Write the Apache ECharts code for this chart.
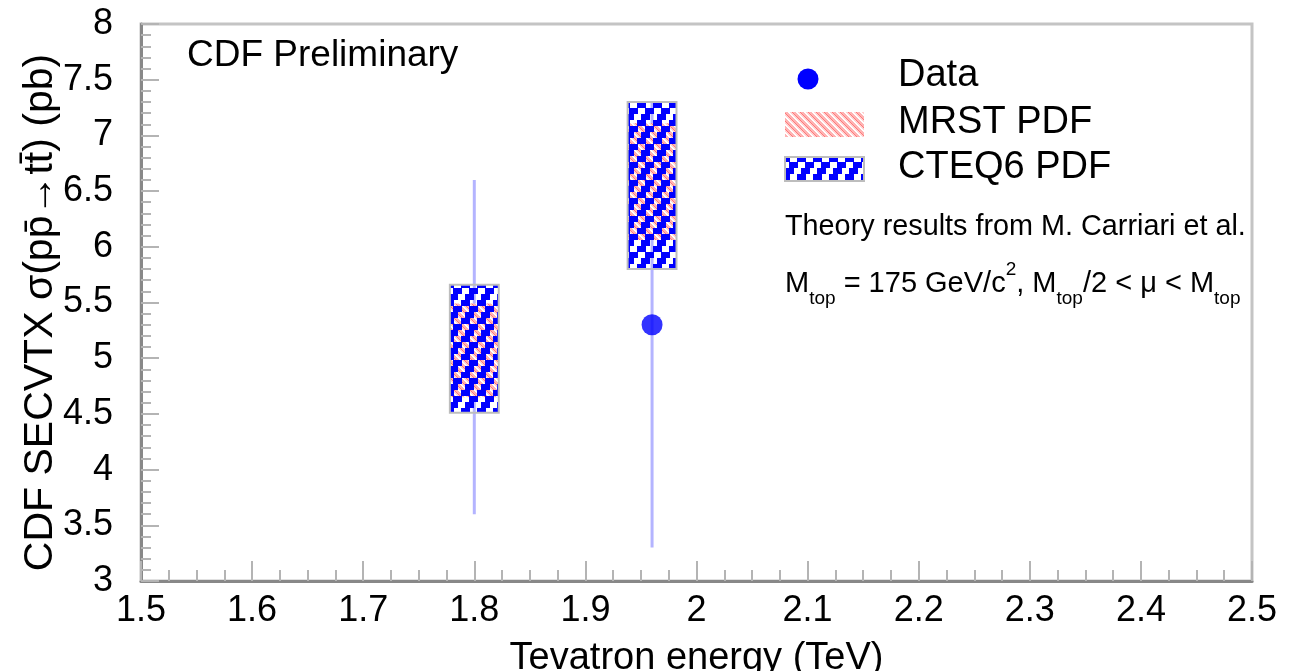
<!DOCTYPE html>
<html>
<head>
<meta charset="utf-8">
<script src="https://cdn.jsdelivr.net/npm/echarts@6/dist/echarts.min.js"></script>
<style>
html,body{margin:0;padding:0;background:#fff;}
#chart{width:1291px;height:671px;}
</style>
</head>
<body>
<div id="chart"></div>
<script>
// ---- data ----
const energies = [1.8, 1.96];            // TeV
const dataValues = [5.1, 5.3];           // pb
const dataErrLow = [3.6, 3.3];
const dataErrHigh = [6.6, 7.3];
const mrstLow = [4.65, 6.06];
const mrstHigh = [5.49, 7.11];
const cteqLow = [4.51, 5.80];
const cteqHigh = [5.66, 7.30];
const legendNames = ['Data', 'MRST PDF', 'CTEQ6 PDF'];
const annotationLines = ['CDF Preliminary', 'Theory results from M. Carriari et al.'];

const FONT = '"Liberation Sans", Arial, Helvetica, sans-serif';
const BOX_HALF = 0.022;

// ---- fill patterns ----
function makeCanvas(w, h, fn) {
  const c = document.createElement('canvas');
  c.width = w; c.height = h;
  const ctx = c.getContext('2d');
  for (let y = 0; y < h; y++) for (let x = 0; x < w; x++) {
    const col = fn(x, y);
    if (col) { ctx.fillStyle = col; ctx.fillRect(x, y, 1, 1); }
  }
  return c;
}
const cteqCanvas = makeCanvas(16, 18, (x, y) => {
  const step = Math.floor(y / 6);
  const start = [5, 1, 13][step];
  const d = ((x - start) % 16 + 16) % 16;
  return d < 9 ? '#0000ff' : null;
});
const cteqCanvasLegend = makeCanvas(16, 18, (x, y) => {
  const step = Math.floor(y / 6);
  const start = [5, 1, 13][step];
  const d = ((x - start) % 16 + 16) % 16;
  return d < 9 ? '#0000ff' : '#ffffff';
});
const mrstCanvas = makeCanvas(8, 8, (x, y) => {
  const d = ((x - y) % 8 + 8) % 8;
  if (d === 0) return '#ff7878';
  if (d <= 3) return '#ffb4b4';
  if (d <= 5) return '#ffffff';
  return '#ffd2d2';
});
const cteqPattern = { image: cteqCanvas, repeat: 'repeat' };
const cteqPatternLegend = { image: cteqCanvasLegend, repeat: 'repeat' };
const mrstPattern = { image: mrstCanvas, repeat: 'repeat' };

function boxRenderer(pattern, stroke) {
  return function (params, api) {
    const x = api.value(0), lo = api.value(1), hi = api.value(2);
    const p1 = api.coord([x - BOX_HALF, hi]);
    const p2 = api.coord([x + BOX_HALF, lo]);
    return {
      type: 'rect',
      shape: { x: p1[0], y: p1[1], width: p2[0] - p1[0], height: p2[1] - p1[1] },
      style: { fill: pattern, stroke: stroke, lineWidth: stroke ? 2 : 0 }
    };
  };
}

const chart = echarts.init(document.getElementById('chart'));
const axisCommon = {
  type: 'value',
  nameMoveOverlap: false,
  axisLine: { show: true, onZero: false, lineStyle: { color: '#888888', width: 3 } },
  splitLine: { show: false },
  axisLabel: { color: '#000', fontSize: 36, fontFamily: FONT }
};

chart.setOption({
  animation: false,
  backgroundColor: '#ffffff',
  grid: { left: 141, right: 39, top: 24, bottom: 90, show: true, borderColor: '#c4c4c4', borderWidth: 3,
          outerBoundsMode: 'none', containLabel: false },
  xAxis: Object.assign({}, axisCommon, {
    min: 1.5, max: 2.5, interval: 0.1,
    name: 'Tevatron energy (TeV)', nameLocation: 'middle', nameGap: 59,
    nameTextStyle: { color: '#000', fontSize: 38, fontFamily: FONT },
    axisTick: { inside: true, length: 20, lineStyle: { color: '#b4b4b4', width: 2 } },
    minorTick: { show: true, splitNumber: 4, length: 11, lineStyle: { color: '#b4b4b4', width: 2 } },
    axisLabel: Object.assign({}, axisCommon.axisLabel, { margin: 12 })
  }),
  yAxis: Object.assign({}, axisCommon, {
    min: 3, max: 8, interval: 0.5,
    name: 'CDF SECVTX σ(pp\u0304\u2192tt\u0304) (pb)', nameLocation: 'middle', nameGap: 80, nameRotate: 90,
    nameTextStyle: { color: '#000', fontSize: 41, fontFamily: FONT, padding: [0, 20, 0, 0] },
    axisTick: { inside: true, length: 18, lineStyle: { color: '#b4b4b4', width: 2 } },
    minorTick: { show: true, splitNumber: 5, length: 10, lineStyle: { color: '#b4b4b4', width: 2 } },
    axisLabel: Object.assign({}, axisCommon.axisLabel, { margin: 28 })
  }),
  series: [
    {
      name: 'errors', type: 'custom', z: 1,
      data: energies.map((e, i) => [e, dataErrLow[i], dataErrHigh[i]]),
      encode: { x: 0, y: [1, 2] },
      renderItem: function (params, api) {
        const a = api.coord([api.value(0), api.value(1)]);
        const b = api.coord([api.value(0), api.value(2)]);
        return { type: 'line', shape: { x1: a[0], y1: a[1], x2: b[0], y2: b[1] },
                 style: { stroke: '#b4b4ff', lineWidth: 3 } };
      }
    },
    {
      name: legendNames[0], type: 'scatter', z: 2,
      data: energies.map((e, i) => [e, dataValues[i]]),
      symbol: 'circle', symbolSize: 21,
      itemStyle: { color: '#0000ff' }
    },
    {
      name: legendNames[1], type: 'custom', z: 3,
      data: energies.map((e, i) => [e, mrstLow[i], mrstHigh[i]]),
      encode: { x: 0, y: [1, 2] },
      renderItem: boxRenderer(mrstPattern, null)
    },
    {
      name: legendNames[2], type: 'custom', z: 4,
      data: energies.map((e, i) => [e, cteqLow[i], cteqHigh[i]]),
      encode: { x: 0, y: [1, 2] },
      renderItem: boxRenderer(cteqPattern, '#bdbdbd')
    }
  ],
  graphic: [
    { type: 'text', left: 187, top: 37, style: { text: annotationLines[0], fill: '#000', font: '37px ' + FONT } },
    { type: 'circle', shape: { cx: 808, cy: 79, r: 10.5 }, style: { fill: '#0000ff' } },
    { type: 'text', left: 898, top: 57, style: { text: legendNames[0], fill: '#000', font: '38px ' + FONT } },
    { type: 'rect', shape: { x: 785, y: 112, width: 79, height: 25 }, style: { fill: mrstPattern } },
    { type: 'text', left: 898, top: 104, style: { text: legendNames[1], fill: '#000', font: '38px ' + FONT } },
    { type: 'rect', shape: { x: 785, y: 157, width: 79, height: 24 }, style: { fill: cteqPatternLegend, stroke: '#bdbdbd', lineWidth: 2 } },
    { type: 'text', left: 898, top: 149, style: { text: legendNames[2], fill: '#000', font: '38px ' + FONT } },
    { type: 'text', left: 785, top: 213, style: { text: annotationLines[1], fill: '#000', font: '28.8px ' + FONT } },
    {
      type: 'text', left: 785, top: 260,
      style: {
        text: '{m|M}{sub|top}{m| = 175 GeV/c}{sup|2}{m|, M}{sub|top}{m|/2 < μ < M}{sub|top}',
        rich: {
          m: { fontSize: 29, fontFamily: FONT, color: '#000', lineHeight: 48, verticalAlign: 'middle' },
          sub: { fontSize: 19, fontFamily: FONT, color: '#000', lineHeight: 19, verticalAlign: 'bottom' },
          sup: { fontSize: 19, fontFamily: FONT, color: '#000', lineHeight: 19, verticalAlign: 'top' }
        }
      }
    }
  ]
});
</script>
</body>
</html>
